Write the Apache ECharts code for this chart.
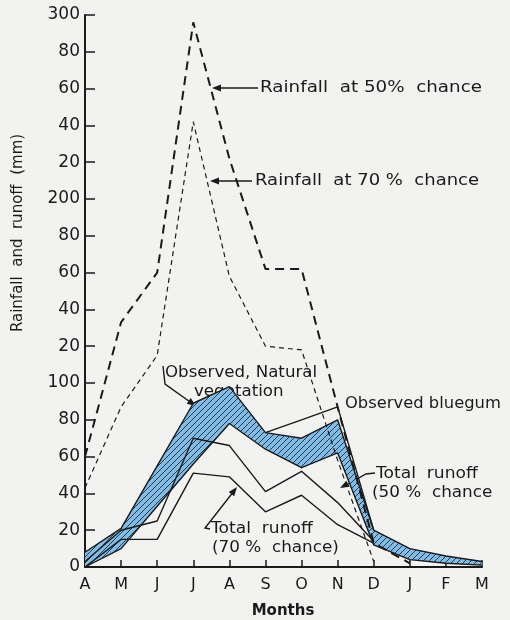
<!DOCTYPE html>
<html>
<head>
<meta charset="utf-8">
<script src="https://cdn.jsdelivr.net/npm/echarts@6/dist/echarts.min.js"></script>
<style>
html,body{margin:0;padding:0;background:#f2f2f0;}
#chart{width:510px;height:620px;}
</style>
</head>
<body>
<div id="chart"></div>
<script>
// ---- data ----
const months = ['A','M','J','J','A','S','O','N','D','J','F','M'];
const yTickLabels = ['0','20','40','60','80','100','20','40','60','80','200','20','40','60','80','300'];
const rain50 = [60,133,160,296,222,162,162,87,13,2,null,null];
const rain70 = [43,87,115,242,158,120,118,58,3,null,null,null];
const runoff50 = [3,20,25,70,66,41,52,35,14,null,null,null];
const runoff70 = [0,15,15,51,49,30,39,23,13,null,null,null];
const bandLower = [0,10,33,56,78,64,54,62,12,4,2,1];
const bandUpper = [8,21,55,89,98,73,70,80,20,10,6,3];
const bluegumTop = [null,null,null,null,null,73,80,87,20,null,null,null];

const bandDiff = bandUpper.map((u,i)=>u-bandLower[i]);

// hatch pattern
const pc = document.createElement('canvas');
pc.width = 6; pc.height = 6;
const g = pc.getContext('2d');
g.fillStyle = '#80bce6';
g.fillRect(0,0,6,6);
g.strokeStyle = '#2a3a4a';
g.lineWidth = 1;
g.beginPath();
g.moveTo(0,6); g.lineTo(6,0);
g.moveTo(-3,3); g.lineTo(3,-3);
g.moveTo(3,9); g.lineTo(9,3);
g.stroke();

const FONT = 'DejaVu Sans';
const INK = '#1a1a1a';
const chart = echarts.init(document.getElementById('chart'));

function txt(x,y,s,sx){
  return {type:'text', x:x, y:y, scaleX:sx||1.12, style:{text:s, fontFamily:FONT, fontSize:15, fill:INK, textVerticalAlign:'middle'}};
}
function line(pts,w){
  return {type:'polyline', shape:{points:pts}, style:{stroke:INK, lineWidth:w||1.4, fill:null}};
}
function head(tip, from){
  const dx = tip[0]-from[0], dy = tip[1]-from[1];
  const L = Math.sqrt(dx*dx+dy*dy), ux = dx/L, uy = dy/L;
  const bx = tip[0]-ux*9, by = tip[1]-uy*9;
  return {type:'polygon', shape:{points:[tip,[bx-uy*3.5,by+ux*3.5],[bx+uy*3.5,by-ux*3.5]]}, style:{fill:INK}};
}

const option = {
  backgroundColor:'#f2f2f0',
  animation:false,
  grid:{left:85, right:28, top:15, bottom:53},
  xAxis:{
    type:'category', data:months, boundaryGap:false,
    axisLine:{lineStyle:{color:INK, width:2}},
    axisTick:{inside:true, length:7, lineStyle:{color:INK, width:1.5}},
    axisLabel:{fontFamily:FONT, fontSize:16, color:INK, margin:10},
    splitLine:{show:false}
  },
  yAxis:{
    type:'value', min:0, max:300, interval:20,
    axisLine:{show:true, lineStyle:{color:INK, width:2}},
    axisTick:{show:true, inside:true, length:10, lineStyle:{color:INK, width:1.5}},
    axisLabel:{fontFamily:FONT, fontSize:17, color:INK, margin:5,
      formatter:(v)=>yTickLabels[Math.round(v/20)]},
    splitLine:{show:false}
  },
  series:[
    {type:'line', data:bandLower, stack:'band', symbol:'none', lineStyle:{color:INK, width:1.4}, z:2},
    {type:'line', data:bandDiff, stack:'band', symbol:'none', lineStyle:{color:INK, width:1.4},
      areaStyle:{color:{image:pc, repeat:'repeat'}, opacity:1}, z:2},
    {type:'line', data:bluegumTop, symbol:'none', lineStyle:{color:INK, width:1.4}, z:3},
    {type:'line', data:runoff50, symbol:'none', lineStyle:{color:INK, width:1.4}, z:3},
    {type:'line', data:runoff70, symbol:'none', lineStyle:{color:INK, width:1.4}, z:3},
    {type:'line', data:rain50, symbol:'none', lineStyle:{color:INK, width:2, type:[9,6]}, z:4},
    {type:'line', data:rain70, symbol:'none', lineStyle:{color:INK, width:1.2, type:[5,4]}, z:4}
  ],
  graphic:[
    {type:'text', x:18, y:233, rotation:Math.PI/2, style:{text:'Rainfall  and  runoff  (mm)', fontFamily:FONT, fontSize:15, fill:INK, textAlign:'center', textVerticalAlign:'middle'}},
    {type:'text', x:283, y:611, style:{text:'Months', fontFamily:FONT, fontSize:15, fontWeight:'bold', fill:INK, textAlign:'center', textVerticalAlign:'middle'}},
    txt(260,88,'Rainfall  at 50%  chance',1.22),
    line([[258,88],[214,88]]), head([212,88],[258,88]),
    txt(255,181,'Rainfall  at 70 %  chance',1.2),
    line([[252,181],[212,181]]), head([210,181],[252,181]),
    txt(165,373,'Observed, Natural',1.11),
    txt(194,392,'vegetation',1.11),
    line([[163,366],[165,384],[193,404]]), head([196,406],[165,384]),
    txt(345,404,'Observed bluegum',1.09),
    txt(376,474,'Total  runoff',1.14),
    txt(372,493,'(50 %  chance',1.12),
    line([[375,473],[366,474],[343,487]]), head([340,488],[366,474]),
    txt(211,529,'Total  runoff',1.14),
    txt(212,548,'(70 %  chance)',1.12),
    line([[210,529],[205,528],[234,491]]), head([237,487],[205,528])
  ]
};
chart.setOption(option);
</script>
</body>
</html>
